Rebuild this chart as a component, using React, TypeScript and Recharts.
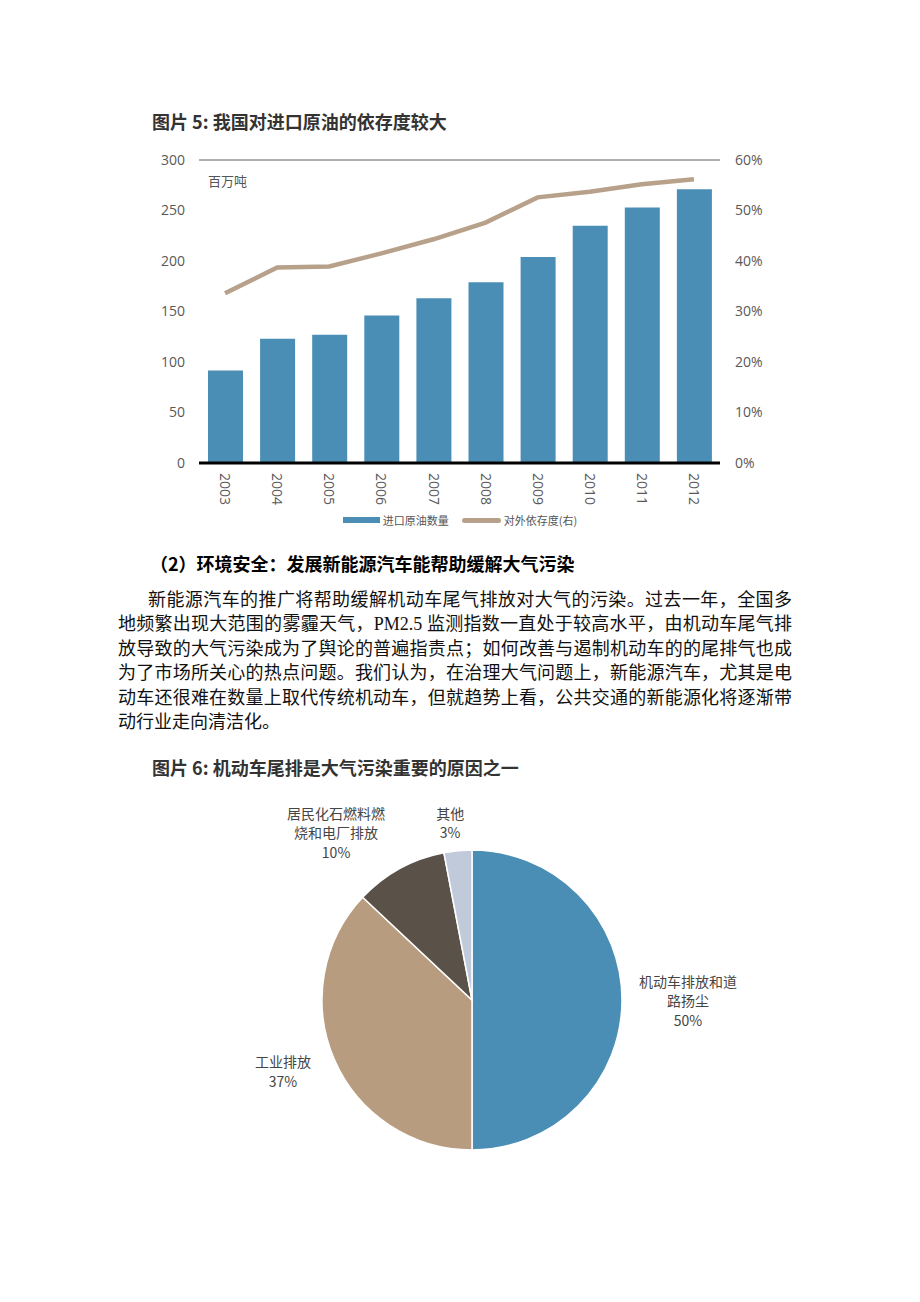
import React from 'react';
import {
  ComposedChart,
  Bar,
  Line,
  XAxis,
  YAxis,
  CartesianGrid,
  Legend,
  PieChart,
  Pie,
  Cell,
} from 'recharts';

// 图片5 数据
const YEARS = ['2003', '2004', '2005', '2006', '2007', '2008', '2009', '2010', '2011', '2012'];
const IMPORT_VOLUME = [91.5, 123, 127, 146, 163, 179, 204, 235, 253, 271];
const DEPENDENCE = [33.6, 38.7, 38.9, 41.5, 44.3, 47.6, 52.6, 53.7, 55.2, 56.2];
const LEFT_TICKS = [0, 50, 100, 150, 200, 250, 300];
const RIGHT_TICKS = [0, 10, 20, 30, 40, 50, 60];

// 图片6 数据
const SOURCES = ['机动车排放和道路扬尘', '工业排放', '居民化石燃料燃烧和电厂排放', '其他'];
const SHARES = [50, 37, 10, 3];
const SOURCE_LABEL_LINES = [
  ['机动车排放和道', '路扬尘'],
  ['工业排放'],
  ['居民化石燃料燃', '烧和电厂排放'],
  ['其他'],
];

const PARAGRAPH_LINES = [
  '新能源汽车的推广将帮助缓解机动车尾气排放对大气的污染。过去一年，全国多',
  '地频繁出现大范围的雾霾天气，PM2.5 监测指数一直处于较高水平，由机动车尾气排',
  '放导致的大气污染成为了舆论的普遍指责点；如何改善与遏制机动车的的尾排气也成',
  '为了市场所关心的热点问题。我们认为，在治理大气问题上，新能源汽车，尤其是电',
  '动车还很难在数量上取代传统机动车，但就趋势上看，公共交通的新能源化将逐渐带',
  '动行业走向清洁化。',
];

const BLUE = '#4A8EB5';
const TAN = '#B8A18A';
const PIE_COLORS = ['#4A8EB5', '#B89C80', '#5A5248', '#C0CADA'];
const CJK = '"Noto Sans CJK SC", "Noto Sans", sans-serif';
const NUM = '"Open Sans", "Noto Sans CJK SC", sans-serif';
const RAD = Math.PI / 180;

// 标签位置微调（半径、角度偏移）
const LABEL_PLACE = [
  { r: 216, da: 0 },
  { r: 202, da: -2.8 },
  { r: 216, da: 10.2 },
  { r: 179, da: 1.6 },
];

const oilData = YEARS.map((year, i) => ({
  year,
  volume: IMPORT_VOLUME[i],
  pct: DEPENDENCE[i],
}));

const pieData = SOURCES.map((name, i) => ({ name, value: SHARES[i] }));

const YearTick = (props: any) => {
  const { x, y, payload } = props;
  return (
    <g transform={`translate(${x},${y})`}>
      <text
        transform="rotate(90)"
        x={2}
        y={0}
        dy="0.35em"
        textAnchor="start"
        fill="#595959"
        fontSize={14}
        fontFamily={NUM}
      >
        {payload.value}
      </text>
    </g>
  );
};

const LegendContent = (props: any) => {
  const { payload = [] } = props;
  // 柱形在前，折线在后
  const items = [...payload].sort(
    (a: any, b: any) => (a.dataKey === 'volume' ? 0 : 1) - (b.dataKey === 'volume' ? 0 : 1)
  );
  return (
    <div
      style={{
        display: 'flex',
        justifyContent: 'center',
        alignItems: 'center',
        fontSize: 11,
        color: '#555',
        fontFamily: CJK,
        height: 20,
      }}
    >
      {items.map((entry: any, i: number) => {
        const isLine = entry.dataKey !== 'volume';
        return (
          <div key={i} style={{ display: 'flex', alignItems: 'center', marginLeft: i ? 13 : 0 }}>
            <span
              style={{
                display: 'inline-block',
                width: isLine ? 39 : 37,
                height: isLine ? 5 : 6,
                borderRadius: isLine ? 3 : 0,
                background: entry.color,
                marginRight: 3,
              }}
            />
            <span>{entry.value}</span>
          </div>
        );
      })}
    </div>
  );
};

const renderSourceLabel = (props: any) => {
  const { cx, cy, midAngle, index } = props;
  const place = LABEL_PLACE[index];
  const a = (midAngle + place.da) * RAD;
  const x = cx + place.r * Math.cos(a);
  const y = cy - place.r * Math.sin(a);
  const lines = [...SOURCE_LABEL_LINES[index], `${SHARES[index]}%`];
  const lh = 19.5;
  const y0 = y - ((lines.length - 1) * lh) / 2;
  return (
    <text
      x={x}
      y={y0}
      textAnchor="middle"
      dominantBaseline="central"
      fill="#454545"
      fontSize={14}
      fontFamily={CJK}
    >
      {lines.map((l, i) => (
        <tspan key={i} x={x} y={y0 + i * lh}>
          {l}
        </tspan>
      ))}
    </text>
  );
};

const titleStyle: React.CSSProperties = {
  position: 'absolute',
  fontFamily: CJK,
  fontWeight: 700,
  fontSize: 18,
  color: '#333',
  lineHeight: '24px',
  whiteSpace: 'nowrap',
};

export default function App() {
  return (
    <div
      style={{
        position: 'absolute',
        left: 0,
        top: 0,
        width: 920,
        height: 1302,
        background: '#fff',
        overflow: 'hidden',
      }}
    >
      <div style={{ ...titleStyle, left: 152, top: 109 }}>图片 5: 我国对进口原油的依存度较大</div>

      <div style={{ position: 'absolute', left: 140, top: 140 }}>
        <ComposedChart
          width={640}
          height={400}
          data={oilData}
          margin={{ top: 20, right: 0, bottom: 10, left: 0 }}
        >
          <CartesianGrid vertical={false} stroke="#5e5e5e" strokeWidth={1} />
          <XAxis
            dataKey="year"
            height={47}
            tickLine={false}
            axisLine={{ stroke: '#000', strokeWidth: 3 }}
            tick={<YearTick />}
            interval={0}
          />
          <YAxis
            yAxisId="left"
            width={59}
            domain={[0, 300]}
            ticks={LEFT_TICKS}
            axisLine={false}
            tickLine={false}
            tickSize={0}
            tickMargin={14}
            tick={{ fill: '#595959', fontSize: 14, fontFamily: NUM }}
          />
          <YAxis
            yAxisId="right"
            orientation="right"
            width={60}
            domain={[0, 60]}
            ticks={RIGHT_TICKS}
            axisLine={false}
            tickLine={false}
            tickSize={0}
            tickMargin={15}
            tickFormatter={(v: number) => `${v}%`}
            tick={{ fill: '#595959', fontSize: 14, fontFamily: NUM }}
          />
          <Legend verticalAlign="bottom" height={20} content={<LegendContent />} />
          <Bar
            yAxisId="left"
            dataKey="volume"
            name="进口原油数量"
            fill={BLUE}
            barSize={35}
            isAnimationActive={false}
          />
          <Line
            yAxisId="right"
            dataKey="pct"
            name="对外依存度(右)"
            type="linear"
            stroke={TAN}
            strokeWidth={4.5}
            dot={false}
            activeDot={false}
            isAnimationActive={false}
          />
        </ComposedChart>
      </div>

      <div
        style={{
          position: 'absolute',
          left: 208,
          top: 172,
          fontSize: 13,
          color: '#555',
          fontFamily: CJK,
          lineHeight: '18px',
        }}
      >
        百万吨
      </div>

      <div
        style={{
          position: 'absolute',
          left: 150,
          top: 550,
          fontFamily: CJK,
          fontWeight: 700,
          fontSize: 18,
          lineHeight: '26px',
          color: '#000',
          whiteSpace: 'nowrap',
        }}
      >
        （2）环境安全：发展新能源汽车能帮助缓解大气污染
      </div>

      <div style={{ position: 'absolute', left: 118, top: 587.75, width: 674 }}>
        {PARAGRAPH_LINES.map((line, i) => (
          <div
            key={i}
            style={{
              fontFamily: '"Liberation Serif", "Noto Sans CJK SC", serif',
              fontSize: 18,
              lineHeight: '24.5px',
              height: 24.5,
              color: '#111',
              whiteSpace: 'nowrap',
              textAlign: 'justify',
              textAlignLast: i === PARAGRAPH_LINES.length - 1 ? 'left' : 'justify',
              textIndent: i === 0 ? 30 : 0,
            }}
          >
            {line}
          </div>
        ))}
      </div>

      <div style={{ ...titleStyle, left: 152, top: 755 }}>图片 6: 机动车尾排是大气污染重要的原因之一</div>

      <div style={{ position: 'absolute', left: 172, top: 750 }}>
        <PieChart width={600} height={500} margin={{ top: 0, right: 0, bottom: 0, left: 0 }}>
          <Pie
            data={pieData}
            dataKey="value"
            nameKey="name"
            cx={300}
            cy={250}
            outerRadius={150}
            startAngle={90}
            endAngle={-270}
            stroke="#fff"
            strokeWidth={1.5}
            label={renderSourceLabel}
            labelLine={false}
            isAnimationActive={false}
          >
            {pieData.map((d, i) => (
              <Cell key={d.name} fill={PIE_COLORS[i]} />
            ))}
          </Pie>
        </PieChart>
      </div>
    </div>
  );
}
